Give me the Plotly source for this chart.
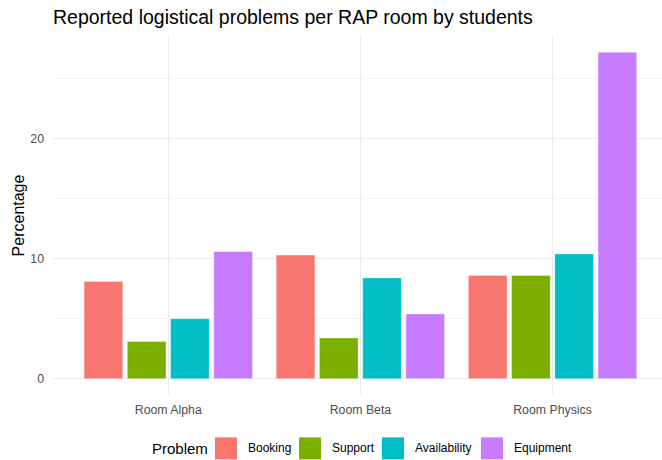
import plotly.graph_objects as go

rooms = ["Room Alpha", "Room Beta", "Room Physics"]
problems = ["Booking", "Support", "Availability", "Equipment"]
booking = [8.1, 10.3, 8.6]
support = [3.1, 3.4, 8.6]
availability = [5.0, 8.4, 10.4]
equipment = [10.6, 5.4, 27.2]
colors = ["#F8766D", "#7CAE00", "#00BFC4", "#C77CFF"]
y_ticks = [0, 10, 20]

series = [booking, support, availability, equipment]

W, H = 662, 460
L, R, T, B = 53, 0, 35.6, 65.4
pw, ph = W - L - R, H - T - B

def px_x(p):
    return (p - L) / pw

def px_y(p):
    return (H - B - p) / ph

FONT = "Liberation Sans, Arial, sans-serif"

fig = go.Figure()
for name, vals, col in zip(problems, series, colors):
    fig.add_trace(go.Bar(
        x=rooms, y=vals, name=name, showlegend=False,
        marker=dict(color=col, line=dict(color="rgba(255,255,255,0.6)", width=0.6)),
    ))

# manual legend (ggplot-style large keys)
key_x = [215, 299, 382, 481]
lab_x = [246, 330, 413, 512]
shapes = []
annotations = [dict(
    text="Problem", x=px_x(150), y=px_y(448), xref="paper", yref="paper",
    xanchor="left", yanchor="middle", showarrow=False,
    font=dict(family=FONT, size=15, color="#000000"))]
for name, col, kx, lx in zip(problems, colors, key_x, lab_x):
    shapes.append(dict(type="rect", xref="paper", yref="paper",
                       x0=px_x(kx), x1=px_x(kx + 22), y0=px_y(459), y1=px_y(437),
                       fillcolor=col, line=dict(width=0)))
    annotations.append(dict(
        text=name, x=px_x(lx), y=px_y(448), xref="paper", yref="paper",
        xanchor="left", yanchor="middle", showarrow=False,
        font=dict(family=FONT, size=12, color="#000000")))

fig.update_layout(
    width=W, height=H, autosize=False,
    margin=dict(l=L, r=R, t=T, b=B, pad=0),
    paper_bgcolor="white", plot_bgcolor="white",
    barmode="group", bargap=0.1, bargroupgap=0.105,
    font=dict(family=FONT, color="#000000"),
    title=dict(text="Reported logistical problems per RAP room by students",
               x=0, xanchor="left", xref="paper",
               y=1 - 17 / H, yref="container", yanchor="middle",
               font=dict(family=FONT, size=19.5, color="#000000")),
    shapes=shapes, annotations=annotations,
    xaxis=dict(range=[-0.6, 2 + (W - 552.5) / 192.2], showgrid=True,
               gridcolor="#ebebeb", gridwidth=1, zeroline=False, showline=False,
               ticks="", ticklabelstandoff=6, automargin=False,
               tickfont=dict(family=FONT, size=12.3, color="#4d4d4d")),
    yaxis=dict(range=[-1.36, 28.56], tickvals=y_ticks, showgrid=True,
               gridcolor="#ebebeb", gridwidth=1, zeroline=False, showline=False,
               ticks="", ticklabelstandoff=8, automargin=False,
               minor=dict(dtick=5, tick0=0, showgrid=True, gridcolor="#f4f4f4", gridwidth=0.6),
               tickfont=dict(family=FONT, size=12.3, color="#4d4d4d"),
               title=dict(text="Percentage", standoff=1,
                          font=dict(family=FONT, size=16, color="#000000"))),
)

fig.write_html("out.html", config={"displayModeBar": False},
               post_script="document.body.style.margin='0';document.body.style.overflow='hidden';")
